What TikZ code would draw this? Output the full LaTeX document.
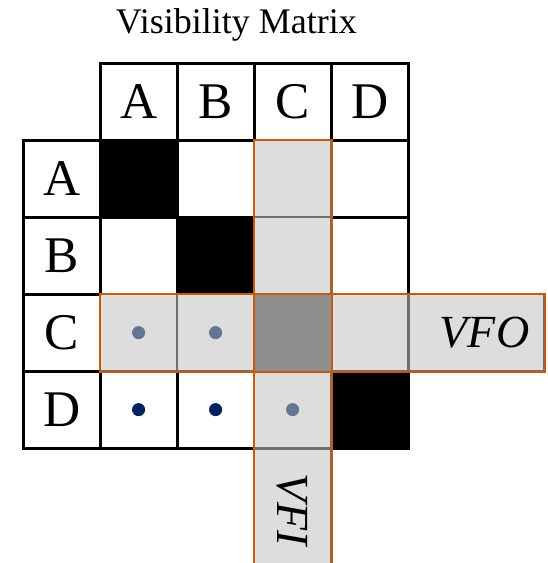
\documentclass[tikz,border=0pt]{standalone}
\usepackage{fontspec}
\setmainfont{Liberation Serif}
\definecolor{hilitegray}{RGB}{221,221,221}
\definecolor{crossgray}{RGB}{143,143,143}
\definecolor{seamgray}{RGB}{112,112,112}
\definecolor{frameorange}{RGB}{197,90,17}
\definecolor{dotslate}{RGB}{99,116,148}
\definecolor{dotnavy}{RGB}{0,32,96}
\usetikzlibrary{positioning}

\tikzset{
  cell/.style={draw=black,line width=1.1pt,minimum size=1cm,inner sep=0pt,outer sep=0pt,
               font=\fontsize{19}{23}\selectfont},
  seam/.style={draw=seamgray,line width=0.8pt},
  frame/.style={draw=frameorange,line width=0.9pt},
  dot/.style={circle,inner sep=0pt,minimum size=0.17cm}
}

\begin{document}
\begin{tikzpicture}
  \useasboundingbox (0,0) rectangle (7.117,-7.312);

  \node[anchor=base,font=\fontsize{13.3}{16}\selectfont] (title) at (3.07,-0.43) {Visibility Matrix};

  % headers
  \foreach \c [count=\i] in {A,B,C,D} {
    \node[cell] (top\c) at (0.8+\i,-1.32) {\c};
    \node[cell] (side\c) at (0.8,-1.32-\i) {\c};
  }

  % body
  \foreach \r [count=\i] in {A,B,C,D}
    \foreach \c [count=\j] in {A,B,C,D}
      \node[cell] (m\r\c) at (0.8+\j,-1.32-\i) {};

  \foreach \n in {mAA,mBB,mDD}
    \fill[black] (\n.north west) rectangle (\n.south east);

  % highlighted row and column
  \foreach \n in {mAC,mBC,mDC,mCA,mCB,mCD}
    \draw[seam,fill=hilitegray] (\n.north west) rectangle (\n.south east);
  \fill[crossgray] (mCC.north west) rectangle (mCC.south east);

  \node[seam,fill=hilitegray,minimum width=1cm,minimum height=1.57cm,inner sep=0pt,
        anchor=north,font=\fontsize{17}{20}\selectfont\itshape] (vfi) at (mDC.south)
       {\raisebox{0pt}{\rotatebox{-90}{VFI}}};
  \node[seam,fill=hilitegray,minimum height=1cm,text width=1.37cm,inner sep=0.19cm,
        align=right,anchor=west,font=\fontsize{17}{20}\selectfont\itshape] (vfo) at (mCD.east)
       {VFO};

  \draw[frame] (mAC.north west) rectangle (vfi.south east);
  \draw[frame] (mCA.north west) rectangle (vfo.south east);

  % dots
  \node[dot,fill=dotslate] (dCA) at (mCA) {};
  \node[dot,fill=dotslate] (dCB) at (mCB) {};
  \node[dot,fill=dotslate] (dDC) at (mDC) {};
  \node[dot,fill=dotnavy] (dDA) at (mDA) {};
  \node[dot,fill=dotnavy] (dDB) at (mDB) {};
\end{tikzpicture}
\end{document}
